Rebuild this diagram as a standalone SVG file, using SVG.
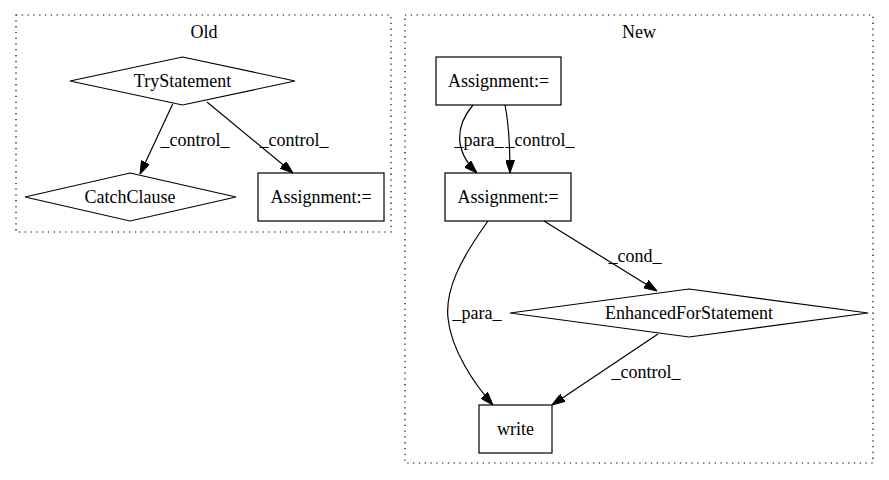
<svg xmlns="http://www.w3.org/2000/svg" width="889" height="480" viewBox="0 0 889 480">
<style>
text{font-family:"Liberation Serif","Times New Roman","DejaVu Serif",serif;font-size:18px;fill:#000}
.c{text-anchor:middle}
.node{fill:none;stroke:#000;stroke-width:1.2}
.cl{fill:none;stroke:#000;stroke-width:1.2;stroke-dasharray:1.3,4.5}
.e{fill:none;stroke:#000;stroke-width:1.2;marker-end:url(#ah)}
</style>
<defs>
<marker id="ah" viewBox="0 0 13 9" refX="13" refY="4.5" markerWidth="13" markerHeight="9" markerUnits="userSpaceOnUse" orient="auto">
<path d="M0,0 L13,4.5 L0,9 z" fill="#000" stroke="#000"/>
</marker>
</defs>
<rect width="889" height="480" fill="#fff"/>
<g id="cluster_old">
<rect class="cl" x="16" y="15" width="375" height="217"/>
<text class="c" x="204" y="38">Old</text>
</g>
<g id="cluster_new">
<rect class="cl" x="405" y="15" width="468" height="448"/>
<text class="c" x="639" y="38">New</text>
</g>
<g id="old_try">
<polygon class="node" points="182.5,57 295,81 182.5,105 70,81"/>
<text class="c" x="182.5" y="87">TryStatement</text>
</g>
<g id="old_catch">
<polygon class="node" points="130,173 236,197 130,221 25,197"/>
<text class="c" x="130" y="203">CatchClause</text>
</g>
<g id="old_assign">
<rect class="node" x="258" y="173" width="126" height="48"/>
<text class="c" x="321" y="203">Assignment:=</text>
</g>
<g id="new_assign1">
<rect class="node" x="436" y="57" width="125" height="48"/>
<text class="c" x="498.5" y="87">Assignment:=</text>
</g>
<g id="new_assign2">
<rect class="node" x="445" y="173" width="126" height="48"/>
<text class="c" x="508" y="203">Assignment:=</text>
</g>
<g id="new_efs">
<polygon class="node" points="689,289 868,313 689,337 510,313"/>
<text class="c" x="689" y="319">EnhancedForStatement</text>
</g>
<g id="new_write">
<rect class="node" x="479" y="405" width="73" height="48"/>
<text class="c" x="515.5" y="435">write</text>
</g>
<g id="edges">
<path class="e" d="M172.7,104 L140,174"/>
<text class="c" x="195" y="146">_control_</text>
<path class="e" d="M207,102 L293,173"/>
<text class="c" x="294" y="146">_control_</text>
<path class="e" d="M473,105 C456,125 453,150 477,173"/>
<text class="c" x="479" y="146">_para_</text>
<path class="e" d="M505,105 C509,125 510,150 510,173"/>
<text class="c" x="540" y="146">_control_</text>
<path class="e" d="M488,221 C460,260 445,290 448,318 C451,350 475,385 493,405"/>
<text class="c" x="477" y="319">_para_</text>
<path class="e" d="M544,221 L657,291"/>
<text class="c" x="635" y="262">_cond_</text>
<path class="e" d="M658,334 L552,405"/>
<text class="c" x="646" y="378">_control_</text>
</g>
</svg>
